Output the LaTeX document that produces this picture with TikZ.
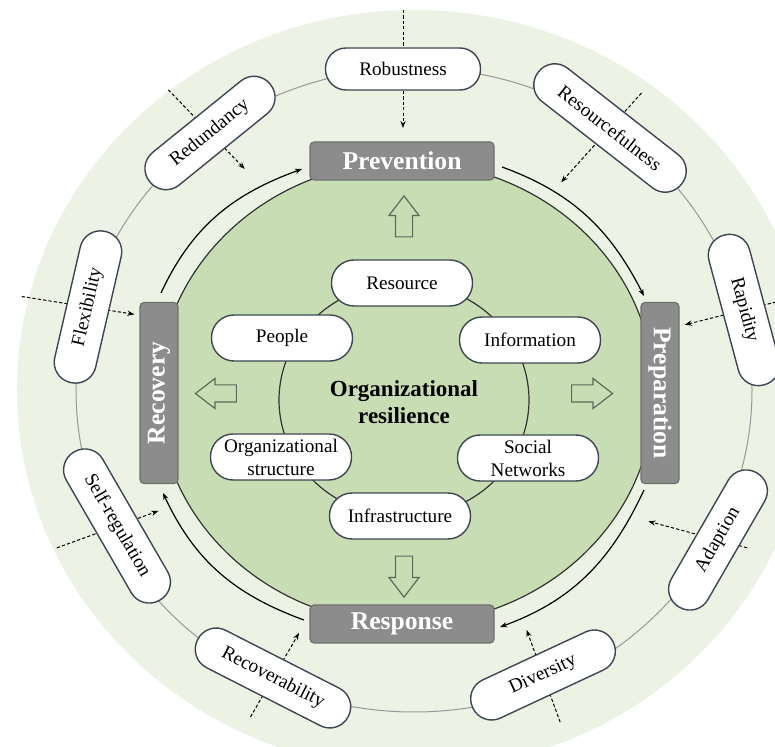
\documentclass[tikz,border=0pt]{standalone}
\usepackage{fontspec}
\setmainfont{Liberation Serif}
\usetikzlibrary{calc, arrows.meta, shapes.arrows}

\definecolor{outergreen}{RGB}{236,242,228}
\definecolor{innergreen}{RGB}{201,221,181}
\definecolor{boxgray}{RGB}{140,140,140}
\definecolor{capline}{RGB}{62,70,82}
\definecolor{arrowline}{RGB}{88,108,88}

\begin{document}
\begin{tikzpicture}[x=0.5pt, y=0.5pt,
  outcap/.style={draw=capline, line width=0.7pt, fill=white, rounded corners=10.3pt,
    minimum width=77.5pt, minimum height=21pt, inner xsep=14pt,
    font=\fontsize{9.6}{11.5}\selectfont},
  incap/.style={draw=capline, line width=0.7pt, fill=white, rounded corners=11.3pt,
    minimum width=70.5pt, minimum height=23pt, inner xsep=4pt, inner ysep=1pt,
    align=center, font=\fontsize{9.6}{11.5}\selectfont},
  phase/.style={fill=boxgray, draw=boxgray!80!black, line width=0.6pt, rounded corners=2pt,
    minimum width=92pt, minimum height=19pt, inner sep=0pt, text=white,
    font=\fontsize{12.8}{14}\selectfont\bfseries},
  blk/.style={single arrow, draw=arrowline, fill=innergreen, line width=0.6pt,
    minimum height=20.5pt, inner sep=4pt, single arrow head extend=3.25pt,
    single arrow tip angle=75},
  flow/.style={-{Stealth[length=3.5pt, width=2.6pt]}, line width=0.6pt},
  feed/.style={dash pattern=on 1.6pt off 1.1pt, -{Stealth[length=3.5pt, width=2.6pt]}, line width=0.5pt}]
  % 画幅
  \useasboundingbox (-410,-355) rectangle (365,392);
  \clip (-410,-355) rectangle (365,392);
  % 外圈背景
  \fill[outergreen] (4,2) ellipse [x radius=397, y radius=380];
  % 外圈连线
  \draw[gray!80, line width=0.5pt] (4,2) ellipse [x radius=338, y radius=322];
  % 内圈
  \draw[black!80, line width=0.6pt, fill=innergreen] (-4,-1) ellipse [x radius=248, y radius=231];
  \draw[black!80, line width=0.6pt] (-6,-8) ellipse [x radius=125, y radius=117];
  % 外圈特征
  \foreach \px/\py/\rot/\dir/\lout/\lin/\txt/\nm in {
      -7/323/0/90/59/59/Robustness/rob,
      200/264/-38/48/47/73/Resourcefulness/rsf,
      334/82/-75/14/60/61/Rapidity/rap,
      308/-148/60/-15/30/72/Adaption/ada,
      133/-283/25/-70/50/48/Diversity/div,
      -137/-286/-27/-120/45/52/Recoverability/rcv,
      -293/-134/-60/-160/64/44/Self-regulation/slf,
      -322/85/77/171/67/47/Flexibility/flx,
      -200/259/39/134/60/50/Redundancy/red}{
    \coordinate (\nm-c) at (\px,\py);
    \coordinate (\nm-o) at ($(\nm-c)+(\dir:\lout)$);
    \coordinate (\nm-i) at ($(\nm-c)+(\dir+180:\lin)$);
    \draw[feed] (\nm-o) -- (\nm-i);
    \node[outcap, rotate=\rot] (\nm) at (\nm-c) {\txt};
  }
  % 四个阶段
  \node[phase] (prevention) at (-8,231) {Prevention};
  \node[phase] (response) at (-8,-232) {Response};
  \node[phase, rotate=90, minimum width=90.5pt] (recovery) at (-251,-1) {Recovery};
  \node[phase, rotate=-90, minimum width=90.5pt] (preparation) at (250,-1) {Preparation};
  % 循环箭头
  \draw[flow] ($(recovery)+(2,100)$) to[out=65, in=200] ($(prevention)+(-100,-8)$);
  \draw[flow] ($(prevention)+(100,-6)$) to[out=-20, in=117] ($(preparation)+(-16,97)$);
  \draw[flow] ($(preparation)+(-16,-97)$) to[out=-115, in=20] ($(response)+(98,-3)$);
  \draw[flow] ($(response)+(-98,4)$) to[out=160, in=-65] ($(recovery)+(4,-100)$);
  % 空心箭头
  \node[blk, rotate=90] (toprev) at (-6,170) {};
  \node[blk, rotate=-90] (toresp) at (-6,-179) {};
  \node[blk, rotate=180] (torecov) at (-188.5,-1.5) {};
  \node[blk] (toprep) at (176.5,-1.5) {};
  % 内圈要素
  \node[incap] (resource) at (-8,109) {Resource};
  \node[incap] (people) at (-128,54) {People};
  \node[incap] (information) at (120,52) {Information};
  \node[incap] (orgstruct) at (-129,-65) {Organizational\\structure};
  \node[incap] (social) at (118,-66) {Social\\Networks};
  \node[incap] (infra) at (-10,-124) {Infrastructure};
  % 中心
  \node[font=\fontsize{11.5}{13.5}\selectfont\bfseries, align=center] (core) at (-6,-10)
    {Organizational\\resilience};
\end{tikzpicture}
\end{document}
